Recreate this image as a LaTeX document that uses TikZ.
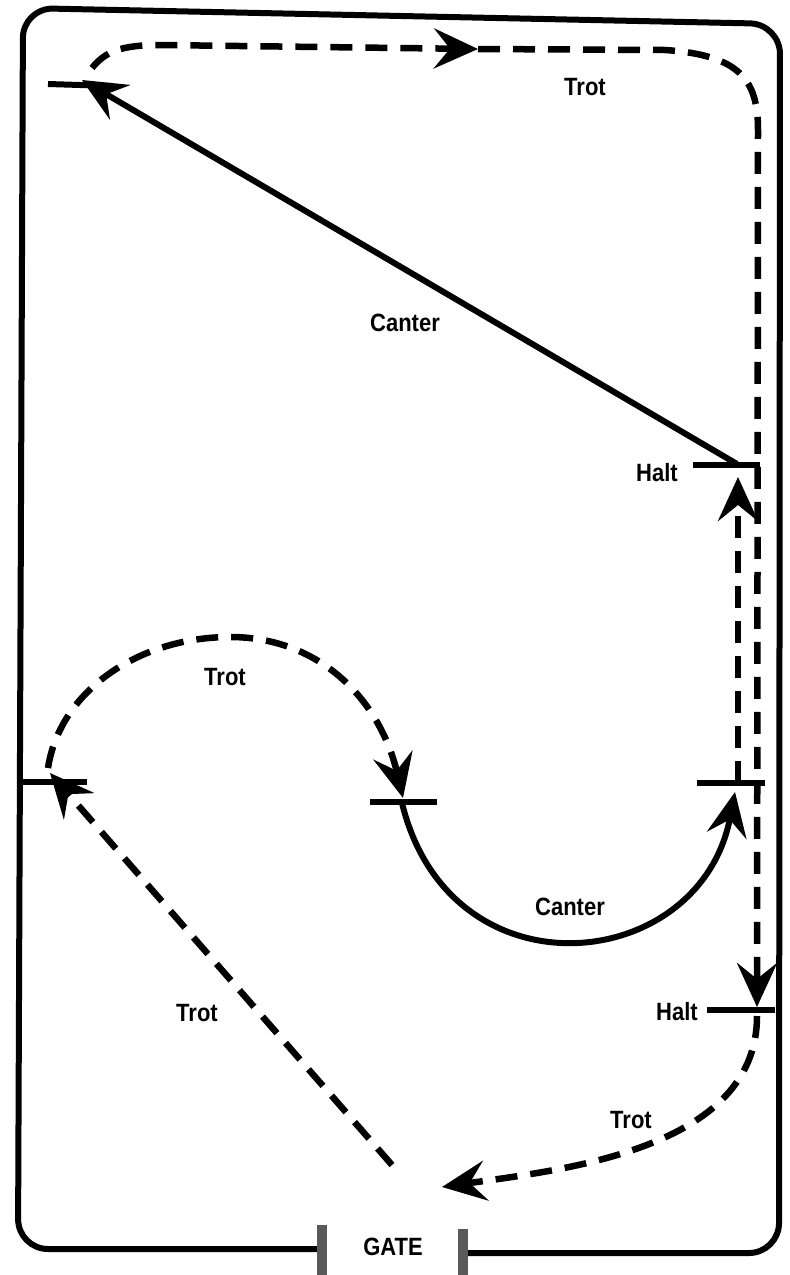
\documentclass[tikz,border=0pt]{standalone}
\usepackage{fontspec}
\newfontfamily\lblfont[FakeStretch=0.88]{Liberation Sans}
\usepackage{tikz}
\usetikzlibrary{arrows.meta}
\tikzset{
  arena/.style={line width=6pt, rounded corners=30pt},
  gatepost/.style={line width=10pt, draw=black!65},
  trot/.style={line width=6.5pt, dash pattern=on 22pt off 13pt},
  canter/.style={line width=6pt},
  marker/.style={line width=6pt},
  tip/.style={-{Stealth[length=44pt,width=40pt,inset=16pt]}},
  lbl/.style={font=\lblfont\bfseries\fontsize{25}{28}\selectfont, inner sep=0pt}
}

\begin{document}
\begin{tikzpicture}[x=1pt,y=-1pt]
  \useasboundingbox (0,0) rectangle (790,1275);
  % arena fence and gate
  \coordinate (gl) at (322,1249);
  \coordinate (gr) at (463,1253);
  \draw[arena] (gl) -- (18,1249) -- (23,8) -- (780,24) -- (779,1253) -- (gr);
  \coordinate (glT) at (322,1225);
  \coordinate (glB) at (322,1275);
  \coordinate (grT) at (463,1229);
  \coordinate (grB) at (463,1275);
  \draw[gatepost] (glT) -- (glB);
  \draw[gatepost] (grT) -- (grB);
  \node[lbl] (gate) at (393,1247) {GATE};
  % markers
  \coordinate (tlA) at (48,84);
  \coordinate (tlB) at (112,86);
  \coordinate (h1A) at (693,465);
  \coordinate (h1B) at (760,465);
  \coordinate (lmA) at (20,782);
  \coordinate (lmB) at (87,782);
  \coordinate (cmA) at (370,802);
  \coordinate (cmB) at (437,802);
  \coordinate (rmA) at (697,783);
  \coordinate (rmB) at (765,783);
  \coordinate (h2A) at (707,1010);
  \coordinate (h2B) at (775,1010);
  \foreach \m in {tl,h1,lm,cm,rm,h2}
    \draw[marker] (\m A) -- (\m B);
  % route points
  \coordinate (tltip) at (82,80);
  \coordinate (tlstart) at (92,68);
  \coordinate (topmid) at (478,49);
  \coordinate (h1) at (737,464);
  \coordinate (h1tip) at (738,477);
  \coordinate (rm) at (738,783);
  \coordinate (rmtip) at (735,792);
  \coordinate (h2tip) at (757,1007);
  \coordinate (h2) at (757,1016);
  \coordinate (gatetip) at (442,1187);
  \coordinate (gatestart) at (392,1165);
  \coordinate (lmtip) at (50,773);
  \coordinate (lm) at (48,768);
  \coordinate (cmtip) at (403,798);
  \coordinate (cm) at (402,803);
  % trot along the long side
  \draw[trot,tip] (tlstart) .. controls (105,52) and (120,45) .. (160,45) -- (topmid);
  \draw[trot,tip] (topmid) -- (665,50) .. controls (740,55) and (758,80) .. (758,130) -- (h2tip);
  % halt to gate
  \draw[trot,tip] (h2) .. controls (757,1150) and (560,1170) .. (gatetip);
  % gate to left marker
  \draw[trot,tip] (gatestart) -- (lmtip);
  % half circle in trot
  \draw[trot,tip] (lm) .. controls (60,690) and (140,637) .. (230,637)
    .. controls (320,637) and (380,700) .. (cmtip);
  % half circle in canter
  \draw[canter,tip] (cm) .. controls (450,1000) and (700,975) .. (rmtip);
  % up the inside track to halt
  \draw[trot,tip] (rm) -- (h1tip);
  % diagonal in canter
  \draw[canter,tip] (h1) -- (tltip);
  % labels
  \node[lbl] (trot1) at (585,87) {Trot};
  \node[lbl] (canter1) at (405,323) {Canter};
  \node[lbl] (halt1) at (657,473) {Halt};
  \node[lbl] (trot2) at (225,677) {Trot};
  \node[lbl] (canter2) at (570,907) {Canter};
  \node[lbl] (trot3) at (197,1013) {Trot};
  \node[lbl] (halt2) at (677,1012) {Halt};
  \node[lbl] (trot4) at (631,1120) {Trot};
\end{tikzpicture}
\end{document}
